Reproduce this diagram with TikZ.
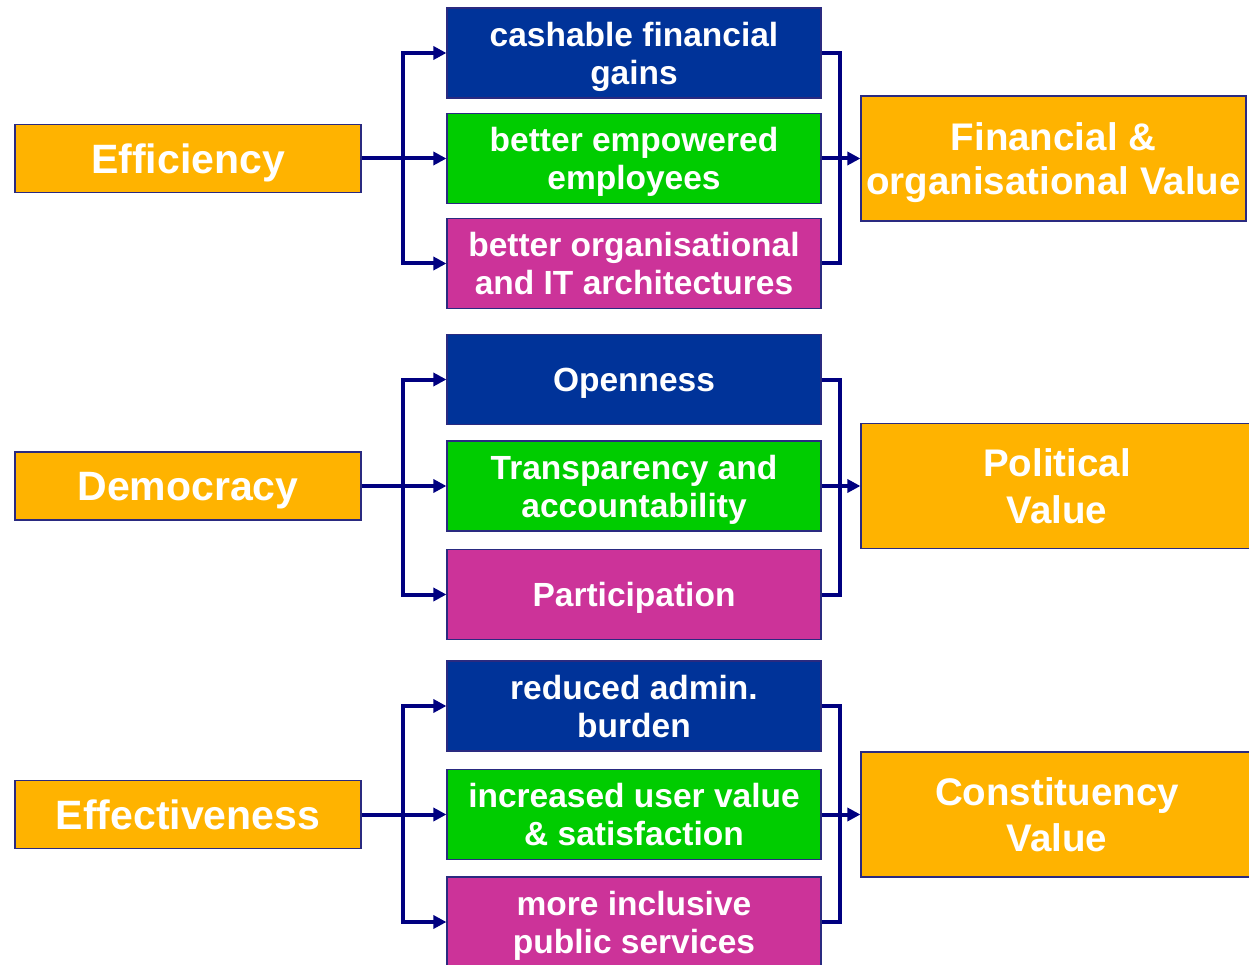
\documentclass[tikz,border=0pt]{standalone}
\usepackage{fontspec}
\setmainfont{Liberation Sans}
\usetikzlibrary{arrows.meta}
\definecolor{orng}{HTML}{FFB300}
\definecolor{bblue}{HTML}{003399}
\definecolor{bgreen}{HTML}{00CC00}
\definecolor{bmag}{HTML}{CC3399}
\definecolor{navyline}{HTML}{000080}
\definecolor{edge}{HTML}{2A2A80}
\tikzset{
  box/.style={draw=edge, line width=1.2pt, text=white, align=center, inner sep=0pt,
    text depth=0pt, font=\bfseries},
  leftbox/.style={box, fill=orng, minimum width=346pt, minimum height=68pt,
    font=\bfseries\fontsize{41}{46}\selectfont},
  midbox/.style={box, minimum width=374pt, minimum height=90pt, text depth=-3pt,
    font=\bfseries\fontsize{33.5}{38}\selectfont},
  rightbox/.style={box, fill=orng, minimum height=125pt,
    font=\bfseries\fontsize{38.5}{46.5}\selectfont},
  conn/.style={draw=navyline, line width=4pt},
  arr/.style={conn, -{Triangle[length=13pt,width=13pt]}},
}
\begin{document}
\begin{tikzpicture}[x=1pt,y=-1pt]
\useasboundingbox (0,0) rectangle (1249,965);
% left boxes
\node[leftbox] (eff) at (188,158.5) {Efficiency};
\node[leftbox] (dem) at (188,486) {Democracy};
\node[leftbox] (efv) at (188,814.5) {Effectiveness};
% middle boxes
\node[midbox, fill=bblue]  (c1) at (634,53)    {cashable financial\\gains};
\node[midbox, fill=bgreen] (c2) at (634,158.5) {better empowered\\employees};
\node[midbox, fill=bmag]   (c3) at (634,263.5) {better organisational\\and IT architectures};
\node[midbox, fill=bblue]  (c4) at (634,379.5) {Openness};
\node[midbox, fill=bgreen] (c5) at (634,486)   {Transparency and\\accountability};
\node[midbox, fill=bmag]   (c6) at (634,594.5) {Participation};
\node[midbox, fill=bblue]  (c7) at (634,706)   {reduced admin.\\burden};
\node[midbox, fill=bgreen] (c8) at (634,814.5) {increased user value\\\& satisfaction};
\node[midbox, fill=bmag]   (c9) at (634,922)   {more inclusive\\public services};
% right boxes
\node[rightbox, minimum width=385pt, text depth=-7pt, font=\bfseries\fontsize{38.5}{44.5}\selectfont] (fin) at (1053.5,158.5) {Financial \&\\organisational Value};
\node[rightbox, minimum width=392pt] (pol) at (1057,486) {Political\\Value};
\node[rightbox, minimum width=392pt] (con) at (1057,814.5) {Constituency\\Value};
% junctions
\coordinate (j1) at (403,158.5);
\coordinate (j2) at (403,486);
\coordinate (j3) at (403,814.5);
\coordinate (k1) at (840,158.5);
\coordinate (k2) at (840,486);
\coordinate (k3) at (840,814.5);
% group 1
\draw[conn] (eff.east) -- (j1);
\draw[arr] (j1) |- (c1.west);
\draw[arr] (j1) -- (c2.west);
\draw[arr] (j1) |- (c3.west);
\draw[conn] (c1.east) -| (k1);
\draw[conn] (c3.east) -| (k1);
\draw[arr] (c2.east) -- (fin.west);
% group 2
\draw[conn] (dem.east) -- (j2);
\draw[arr] (j2) |- (c4.west);
\draw[arr] (j2) -- (c5.west);
\draw[arr] (j2) |- (c6.west);
\draw[conn] (c4.east) -| (k2);
\draw[conn] (c6.east) -| (k2);
\draw[arr] (c5.east) -- (pol.west);
% group 3
\draw[conn] (efv.east) -- (j3);
\draw[arr] (j3) |- (c7.west);
\draw[arr] (j3) -- (c8.west);
\draw[arr] (j3) |- (c9.west);
\draw[conn] (c7.east) -| (k3);
\draw[conn] (c9.east) -| (k3);
\draw[arr] (c8.east) -- (con.west);
\end{tikzpicture}
\end{document}
